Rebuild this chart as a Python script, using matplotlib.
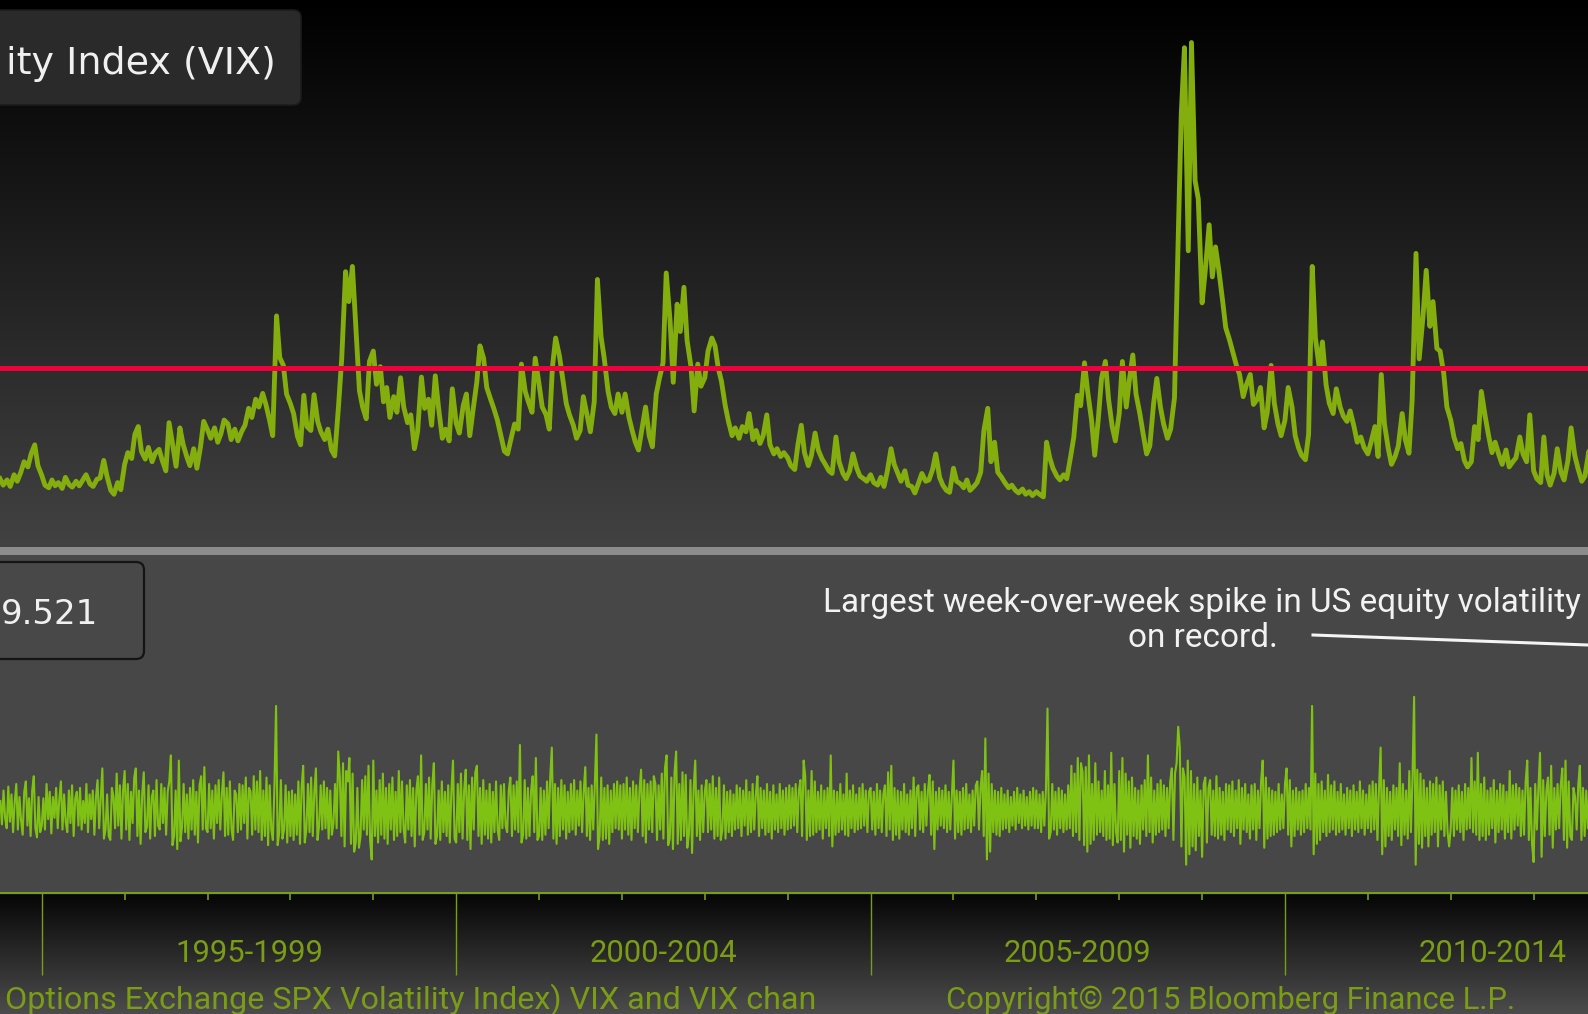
import numpy as np
import pandas as pd
import matplotlib
matplotlib.use("Agg")
import matplotlib.pyplot as plt
from matplotlib.patches import FancyBboxPatch, Rectangle

W, H, DPI = 1588, 1014, 100

# VIX level, two samples per month (1st / 15th) from this date
start_date = "1994-07-01"
vix = [
    13.0, 12.0, 12.8, 11.8, 13.6, 12.6, 14.0, 15.6, 14.8, 16.8, 18.2, 15.0,  # 1994 H2
    13.5, 12.0, 11.6, 12.8, 11.9, 12.4, 11.5, 13.2, 12.1, 11.7, 12.6, 11.9,
    12.8, 13.6, 12.2, 11.8, 12.9, 13.1, 15.8, 13.4, 11.2, 10.6, 12.4, 11.3,  # 1995
    15.2, 17.0, 16.1, 19.8, 21.0, 17.2, 16.0, 17.8, 15.6, 16.9, 17.5, 15.8,
    14.2, 21.6, 18.0, 14.9, 20.8, 18.3, 16.4, 15.0, 17.6, 14.6, 17.9, 21.8,  # 1996
    20.5, 19.2, 20.8, 18.6, 19.9, 22.0, 21.4, 19.0, 20.6, 18.8, 20.3, 21.2,
    23.8, 22.4, 25.2, 24.0, 26.1, 24.4, 22.0, 19.6, 38.0, 31.6, 30.4, 26.0,  # 1997
    24.5, 23.0, 19.5, 18.2, 25.8, 21.0, 20.4, 25.9, 21.8, 20.2, 19.0, 20.6,
    17.4, 16.5, 24.2, 31.5, 44.8, 40.2, 45.6, 36.9, 26.5, 24.0, 22.2, 31.0,  # 1998
    32.6, 27.5, 30.2, 24.8, 27.0, 22.4, 25.6, 23.2, 28.5, 24.0, 21.6, 22.8,
    17.6, 20.2, 28.6, 23.8, 25.2, 21.2, 28.8, 24.0, 19.2, 20.6, 18.8, 26.8,  # 1999
    21.5, 20.0, 24.2, 26.0, 19.6, 23.4, 27.8, 33.4, 31.5, 27.0, 25.2, 23.8,
    22.0, 19.8, 17.2, 16.8, 19.4, 21.4, 20.6, 30.6, 26.4, 24.8, 23.2, 31.5,  # 2000
    27.5, 24.0, 22.8, 20.6, 30.2, 34.6, 31.8, 28.4, 24.5, 22.8, 21.2, 19.2,
    20.4, 25.6, 22.6, 20.2, 24.8, 43.6, 34.8, 31.5, 26.4, 24.0, 23.0, 26.0,  # 2001
    23.2, 26.0, 22.4, 20.4, 18.6, 17.4, 21.0, 24.0, 19.6, 17.9, 26.0, 28.4,
    30.8, 44.6, 37.2, 27.8, 39.8, 35.6, 42.4, 34.2, 30.2, 23.4, 30.6, 27.2,  # 2002
    28.5, 32.6, 34.6, 33.4, 30.0, 28.0, 24.2, 21.8, 19.6, 20.8, 19.2, 21.0,
    20.2, 23.0, 19.0, 20.4, 18.4, 19.6, 22.8, 18.2, 16.8, 17.6, 16.4, 17.0,  # 2003
    16.2, 15.0, 14.4, 18.2, 21.2, 17.0, 15.0, 16.6, 20.0, 17.4, 16.0, 15.2,
    14.2, 13.8, 19.4, 15.6, 13.8, 13.0, 14.2, 16.8, 14.6, 13.4, 13.0, 12.6,  # 2004
    13.6, 12.4, 12.0, 13.2, 11.8, 14.0, 17.6, 15.2, 13.8, 12.6, 14.2, 12.0,
    11.8, 10.8, 12.4, 13.8, 12.6, 12.8, 14.4, 16.8, 13.2, 12.0, 11.2, 10.9,  # 2005
    14.6, 12.6, 12.2, 11.6, 12.8, 11.2, 11.8, 12.4, 14.0, 20.4, 23.8, 15.6,
    18.6, 14.0, 13.2, 12.4, 11.6, 12.0, 11.2, 10.8, 11.4, 10.6, 11.0, 10.4,  # 2006
    11.0, 10.6, 10.2, 18.6, 16.2, 14.6, 13.4, 12.8, 13.6, 13.0, 16.4, 19.4,
    25.8, 24.2, 30.8, 26.4, 22.0, 16.6, 22.2, 28.4, 31.0, 25.2, 21.0, 18.8,  # 2007
    23.0, 31.0, 24.0, 28.2, 32.0, 26.0, 23.0, 20.0, 16.8, 18.0, 24.6, 28.4,
    24.0, 21.4, 19.2, 20.6, 25.4, 46.4, 69.0, 79.2, 48.0, 80.0, 58.8, 56.0,  # 2008
    40.0, 45.0, 52.0, 44.0, 48.6, 45.2, 40.4, 36.2, 34.4, 32.6, 30.4, 29.0,
    25.6, 27.4, 29.0, 24.4, 25.2, 27.0, 20.8, 23.2, 30.4, 24.6, 21.4, 19.6,  # 2009
    22.0, 27.0, 24.0, 19.6, 17.8, 16.6, 15.9, 19.8, 45.6, 34.6, 30.0, 34.0,
    27.4, 24.6, 23.0, 26.8, 24.0, 22.6, 21.8, 23.4, 21.0, 18.6, 19.4, 17.8,  # 2010
    16.8, 18.6, 21.0, 16.4, 29.0, 21.4, 17.6, 15.2, 16.4, 18.0, 23.0, 19.0,
    16.9, 25.0, 47.6, 31.4, 38.0, 45.0, 36.4, 40.2, 33.0, 32.6, 29.2, 24.0,  # 2011
    22.0, 19.4, 17.6, 18.4, 15.8, 14.8, 15.6, 21.0, 19.0, 26.4, 22.6, 19.8,
    17.0, 18.6, 16.6, 15.2, 17.4, 14.8, 15.6, 16.2, 19.4, 16.8, 15.6, 22.8,  # 2012
    14.2, 13.0, 12.4, 19.4, 13.6, 12.0, 13.8, 17.6, 14.0, 12.8, 15.8, 20.8,
    16.6, 14.6, 12.6, 13.4, 17.2, 14.8,  # 2013
]

# VIX week-over-week change (%), one list per year (first from mid-1994)
chg_1994 = [7, -11, 15, -6, -14, 18, -9, 12, -17, 6, 20, -15, 10, -8, -19, 14, 22, -12, 9, -20,
            15, 26, -14, -21, 10, -17]
chg_1995 = [-12, 9, -15, 20, -7, 14, -18, 10, -6, 17, -14, 8, 22, -15, 12, -9, -17, 15, -10, 19,
            -20, 9, 14, -12, 17, -15, 7, -10, 20, -17, 12, -7, 15, -19, 10, 23, -14, 9, 32, -22,
            -15, 12, -20, -23, 17, 10, -14, 28, -12, 19, -22, 15]
chg_1996 = [30, -15, 20, -23, 14, -10, 25, 32, -20, 15, -26, 12, 29, -17, -13, 19, -22, 10, 15, -20,
            23, -12, -15, 20, -10, 17, -19, 14, 22, 42, -27, -20, 15, -30, 38, -24, -13, 20, -17, 12,
            -22, 17, -15, 23, -19, 14, -25, 19, 26, -15, 33, -14]
chg_1997 = [-17, 20, -14, 15, -22, 19, -10, 23, -15, 12, 29, -20, 17, -19, 22, -14, -23, 15, 12, -17,
            20, -15, 19, -10, 25, -22, 17, 14, -19, 26, -15, 22, -17, 30, -23, 15, -20, 25, -27, 19,
            -15, -23, 20, 80, -27, -17, 23, -22, -15, 19, -25, 14]
chg_1998 = [-20, 15, -23, 12, -19, 22, -26, 17, 34, -25, -15, 20, -17, 25, -20, 14, 32, -23, -12, 19,
            -15, 22, -14, 17, -22, 15, -19, -10, 20, -14, 45, 25, -20, 36, -28, 30, 22, 40, -26, 28,
            -32, -25, 17, -29, -20, 23, -15, 26, -19, 34, -23, -38]
chg_1999 = [38, -20, 15, -25, 23, -19, 28, -22, 17, -26, 20, -15, 25, -23, 14, -20, 30, -17, 22, -14,
            -25, 19, -15, 23, -20, 17, -28, 15, 26, -19, 42, -23, -17, 20, -15, 25, -22, 19, 36, -26,
            -20, 15, -23, 22, -17, 14, -20, 19, -25, 15, 38, -22]
chg_2000 = [-25, 20, -17, 28, -22, 15, 31, -23, 19, -30, 25, -15, 29, 34, -20, 17, -26, 23, -19, 15,
            -22, 20, -25, 14, -17, 22, -15, -23, 19, -14, 20, -12, -17, 15, 25, -20, 19, -15, 22, -17,
            50, -25, -19, 23, -22, 17, -20, 15, 26, -17, 40, -23]
chg_2001 = [-20, 17, -23, 15, -19, 22, -14, 25, 48, -22, 20, -26, 17, -20, 23, -15, 19, -22, 14, -17,
            20, -15, 23, -19, 15, -12, 22, -17, 14, 33, -20, 17, -23, 19, -15, 20, 58, -30, -20, 25,
            -23, 17, -22, 19, -26, 15, -17, 20, -14, 22, -15, 19]
chg_2002 = [-22, 20, -15, 25, -19, 17, -23, 22, -14, 19, -17, 15, 31, -20, 23, -25, 20, -15, 22, -17,
            26, 20, -23, 19, -15, 28, -22, 32, 42, -27, -22, 25, -30, 29, 45, -26, 20, -23, 29, -20,
            27, -29, -19, 23, -33, 17, 38, -20, 15, -23, 19, -17]
chg_2003 = [14, 23, -17, 20, -15, 26, -22, 17, -20, 25, -23, -15, 19, -22, 14, -17, 15, -20, 12, -15,
            19, -14, 17, -20, 15, -12, 23, -19, 14, -17, 20, -15, 12, 26, -20, 17, -14, 15, -19, 20,
            -17, 14, -22, 19, -15, 12, -17, 20, -14, 15, -19, 17]
chg_2004 = [-15, 19, -14, 17, -12, 20, -17, 15, 23, -20, 38, 26, -23, 15, -20, 30, -19, 22, -17, 14,
            -15, 19, -22, 15, -14, 17, -20, 42, -28, 15, -19, 14, -17, 20, -15, 12, -19, 28, -20, 15,
            -14, 19, -17, 12, -15, 17, -14, 20, -12, 15, -17, 14]
chg_2005 = [17, -15, 14, -19, 20, -14, 15, -17, 12, 19, -20, 29, -15, 34, -23, 17, -19, 15, -22, 14,
            -15, 20, -17, 12, -19, 15, -14, 25, -20, 17, 19, -15, 14, -17, 20, -12, 15, 27, -19, 22,
            -30, 14, -15, 17, -12, 15, -14, 19, -17, 14, -15, 12]
chg_2006 = [38, -22, 15, -17, 14, -19, 17, -15, 20, -14, 12, -17, 15, -12, 19, 22, -15, 17, 30, -20,
            55, -38, 28, -32, 20, -17, 15, -19, 14, -20, 17, -15, 12, -14, 15, -17, 10, -12, 14, -15,
            17, -10, 12, -14, 15, -12, 10, -15, 14, -12, 17, -14]
chg_2007 = [15, -14, 12, -17, 14, -12, 15, 78, -22, -17, 20, -15, 14, -19, 17, -14, 15, -17, 12, -15,
            19, -14, 34, -20, 28, -17, 40, -23, 36, 29, -27, 33, -32, 42, -26, 20, -23, 36, -19, 22,
            -17, 15, -20, 30, -23, 19, -22, 44, -27, 20, -17, -25]
chg_2008 = [30, -23, 40, -32, 28, -19, 22, -29, 25, -20, 17, -22, 15, -26, 19, -15, 23, -20, 42, -17,
            25, -25, 15, -19, 20, -17, 23, -15, 19, -20, 17, -14, 22, 32, -23, 28, 36, 64, 48, -28,
            32, 25, -42, 38, -34, 30, -28, 20, -31, 25, -20, 15]
chg_2009 = [-36, 20, 25, -25, 17, 23, -19, 15, -20, 26, -22, 17, -19, 14, -23, 20, -15, 19, -17, 22,
            -20, 15, -14, 23, -26, 17, -15, 20, -17, 12, -22, 19, -15, 20, -23, 15, -14, 22, 38, -29,
            25, -22, 17, -20, 15, -19, 14, -17, 20, -15, 12, -14]
chg_2010 = [20, 32, -19, 23, -28, 15, -20, 17, -15, 14, -19, 15, -17, 20, -14, 17, -15, 80, -34, 28,
            -26, 20, -23, 22, -17, 15, -20, 27, -17, 19, -15, 22, -19, 14, -17, 20, -15, 12, -19, 17,
            -14, 15, -20, 19, -15, 14, -17, 22, -14, 15, -19, 12]
chg_2011 = [-14, 19, -17, 22, -15, 20, -23, 17, 48, -34, 23, -28, 17, -20, 14, -23, 19, -15, 17, -20,
            36, -27, 20, -19, 15, -22, 30, -17, 25, 87, -42, 31, -26, 28, -29, 23, -20, 17, -28, 22,
            -19, 20, -17, 25, -28, 19, -15, 22, -20, 14, -17, -28]
chg_2012 = [-14, 17, -20, 15, -15, 19, -17, 14, -23, 20, -15, 17, -14, 40, -17, 22, -19, 44, -23, 20,
            -20, 25, -23, 15, -19, 17, -14, 23, -25, 15, -17, 20, -15, 19, -22, 14, -17, 30, -22, 19,
            -15, 20, -12, 17, -20, 15, -19, 22, 38, -23, 17, -26]
chg_2013 = [-40, 20, -15, 17, 44, -36, 23, -20, 15, 25, -19, 34, -29, 17, -15, 20, -14, 19, 32, -23,
            38, -29, 22, -20, -23, 17, 10, -15, 19, 34, -23, 17, -20, 15, -14, 19]

chg_years = {1994.5: chg_1994, 1995: chg_1995, 1996: chg_1996, 1997: chg_1997,
             1998: chg_1998, 1999: chg_1999, 2000: chg_2000, 2001: chg_2001,
             2002: chg_2002, 2003: chg_2003, 2004: chg_2004, 2005: chg_2005,
             2006: chg_2006, 2007: chg_2007, 2008: chg_2008, 2009: chg_2009,
             2010: chg_2010, 2011: chg_2011, 2012: chg_2012, 2013: chg_2013}

ref_level = 30  # red reference line
period_starts = [1995, 2000, 2005, 2010]
period_labels = ["1995-1999", "2000-2004", "2005-2009", "2010-2014"]
years = list(range(1995, 2014))
x_lim = (1994.496, 2013.656)

title = "ity Index (VIX)"
last_value = "9.521"
note = ["Largest week-over-week spike in US equity volatility", "on record."]
source = "Options Exchange SPX Volatility Index) VIX and VIX chan"
copyright_txt = "Copyright\u00a9 2015 Bloomberg Finance L.P."

GREEN_TOP = "#84ad0e"
GREEN_BOT = "#80c214"
AXIS_GREEN = "#7b9c16"
RED = "#f0003c"
NARROW = ["Roboto", "DejaVu Sans"]


def semi_monthly_years(n):
    d = pd.date_range(start_date, periods=n, freq="SMS")
    return (d.year + (d.dayofyear - 1) / (365 + d.is_leap_year)).to_numpy()


def vgrad(c0, c1, n=256):
    a = np.array(matplotlib.colors.to_rgb(c0))
    b = np.array(matplotlib.colors.to_rgb(c1))
    t = np.linspace(0, 1, n)[:, None]
    return (a + (b - a) * t)[:, None, :]


chg_x, chg_y = [], []
for y0, vals in chg_years.items():
    chg_x += [y0 + k / 52 for k in range(len(vals))]
    chg_y += vals

fig = plt.figure(figsize=(W / DPI, H / DPI), dpi=DPI)

# background in pixel coordinates
bg = fig.add_axes([0, 0, 1, 1])
bg.axis("off")
bg.imshow(vgrad("#000000", "#424242"), extent=[0, W, 547, 0], aspect="auto")
bg.add_patch(Rectangle((0, 547), W, 8, color="#8c8c8c", lw=0))
bg.add_patch(Rectangle((0, 555), W, 337, color="#474747", lw=0))
bg.imshow(vgrad("#050505", "#4c4c4c"), extent=[0, W, H, 892], aspect="auto")
bg.set_xlim(0, W)
bg.set_ylim(H, 0)

# upper panel: VIX level
ax1 = fig.add_axes([0, 1 - 547 / H, 1, 547 / H])
ax1.patch.set_alpha(0)
ax1.axis("off")
ax1.plot(semi_monthly_years(len(vix)), vix, color=GREEN_TOP, lw=3.5)
ax1.axhline(ref_level, color=RED, lw=3.6, zorder=3)
ax1.set_xlim(*x_lim)
ax1.set_ylim(2.5, 86.53)

# lower panel: VIX change
ax2 = fig.add_axes([0, 1 - 892 / H, 1, 337 / H])
ax2.patch.set_alpha(0)
ax2.axis("off")
ax2.plot(chg_x, chg_y, color=GREEN_BOT, lw=1.5)
ax2.set_xlim(*x_lim)
ax2.set_ylim(-63, 196)

# bottom time axis
ax3 = fig.add_axes([0, 0, 1, (H - 892) / H])
ax3.patch.set_alpha(0)
ax3.axis("off")
ax3.set_xlim(*x_lim)
ax3.set_ylim(H, 892)
ax3.axhline(892.5, color=AXIS_GREEN, lw=1.6)
minor = [y for y in years if y not in period_starts]
ax3.vlines(minor, 892, 900, color=AXIS_GREEN, lw=1.2)
ax3.vlines(period_starts, 892, 975, color=AXIS_GREEN, lw=1.0)
for p, lab in zip(period_starts, period_labels):
    ax3.text(p + 2.5, 953, lab, color=AXIS_GREEN, ha="center", va="center",
             fontsize=22.3, family=NARROW)

# overlay: boxes, notes, footer
fg = fig.add_axes([0, 0, 1, 1])
fg.patch.set_alpha(0)
fg.set_xlim(0, W)
fg.set_ylim(H, 0)
fg.axis("off")
fg.add_patch(FancyBboxPatch((-30, 10), 331, 95, boxstyle="round,pad=0,rounding_size=8",
                            fc="#2a2a2a", ec="#1c1c1c", lw=1.2))
fg.text(276, 64, title, color="#f0f0f0", fontsize=27.4, ha="right", va="center")
fg.add_patch(FancyBboxPatch((-30, 562), 174, 97, boxstyle="round,pad=0,rounding_size=8",
                            fc="#484848", ec="#141414", lw=1.6))
fg.text(1, 615, last_value, color="#f0f0f0", fontsize=24.5, ha="left", va="center")
fg.text(1202, 603, note[0], color="#f2f2f2", fontsize=24, ha="center", va="center",
        family=NARROW)
fg.text(1203, 638, note[1], color="#f2f2f2", fontsize=24, ha="center", va="center",
        family=NARROW)
fg.plot([1313, 1588], [635, 645], color="#f4f4f4", lw=2.2)
fg.text(5, 1000, source, color=AXIS_GREEN, fontsize=23.2, ha="left", va="center",
        family=NARROW)
fg.text(946, 1000, copyright_txt, color=AXIS_GREEN, fontsize=22.3, ha="left", va="center",
        family=NARROW)

fig.savefig("out.png", dpi=DPI)
